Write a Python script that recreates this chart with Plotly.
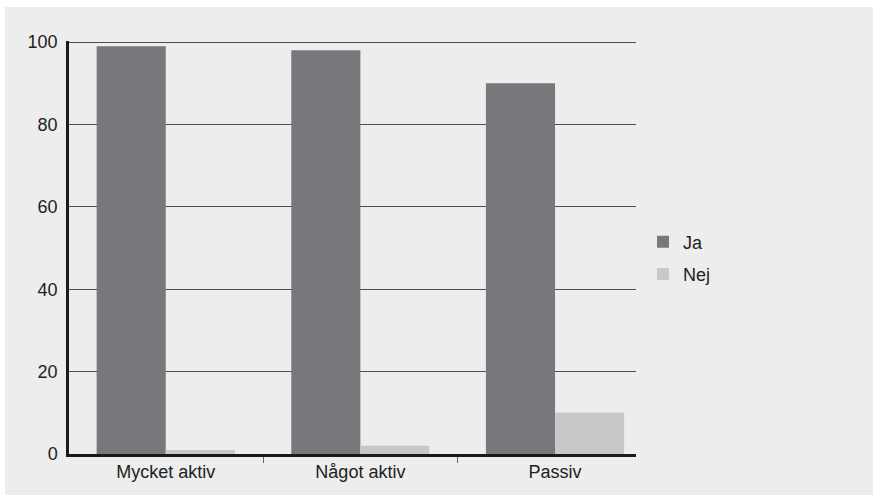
import plotly.graph_objects as go

categories = ["Mycket aktiv", "Något aktiv", "Passiv"]
ja_values = [99, 98, 90]
nej_values = [1, 2, 10]
y_ticks = [0, 20, 40, 60, 80, 100]

FONT = "Liberation Sans, Arial, sans-serif"
W, H = 873, 502
L, R, T, B = 69, 237, 41, 48
pw, ph = W - L - R, H - T - B

def px_x(p):
    return (p - L) / pw

def px_y(p):
    return (H - B - p) / ph

fig = go.Figure()
fig.add_trace(go.Bar(x=categories, y=ja_values, name="Ja", marker_color="#77787b",
                     marker_line_width=0, legendgroup="a"))
fig.add_trace(go.Bar(x=categories, y=nej_values, name="Nej", marker_color="#c7c8ca",
                     marker_line_width=0, legendgroup="b"))

fig.update_layout(
    width=W, height=H,
    margin=dict(l=L, r=R, t=T, b=B),
    paper_bgcolor="white",
    plot_bgcolor="rgba(0,0,0,0)",
    barmode="group", bargap=0.29, bargroupgap=0,
    font=dict(family=FONT, size=18, color="#222222"),
    showlegend=True,
    legend=dict(x=px_x(643), xanchor="left", y=px_y(258), yanchor="middle",
                bgcolor="rgba(0,0,0,0)", font=dict(size=18, color="#222222"),
                tracegroupgap=6, itemwidth=30),
    shapes=[dict(type="rect", xref="paper", yref="paper",
                 x0=px_x(5), x1=px_x(880), y0=px_y(495), y1=px_y(7),
                 fillcolor="#ededed", line_width=0, layer="below")],
)
fig.update_xaxes(range=[-0.497, 2.416], showgrid=False, showline=True, linewidth=2.5,
                 linecolor="#1a1a1a", ticks="outside", tickson="boundaries", ticklen=6,
                 tickcolor="#666666", tickwidth=1, tickfont=dict(size=18, color="#222222"))
fig.update_yaxes(range=[0, 100.25], tickvals=y_ticks, showgrid=True, gridcolor="#4d4d4d",
                 gridwidth=1, zeroline=False, showline=True, linewidth=2.5,
                 linecolor="#1a1a1a", ticks="", ticklabelstandoff=5,
                 tickfont=dict(size=18, color="#222222"))

fig.write_html("out.html", config={"displayModeBar": False},
               post_script="document.body.style.margin='0';document.body.style.overflow='hidden';")
